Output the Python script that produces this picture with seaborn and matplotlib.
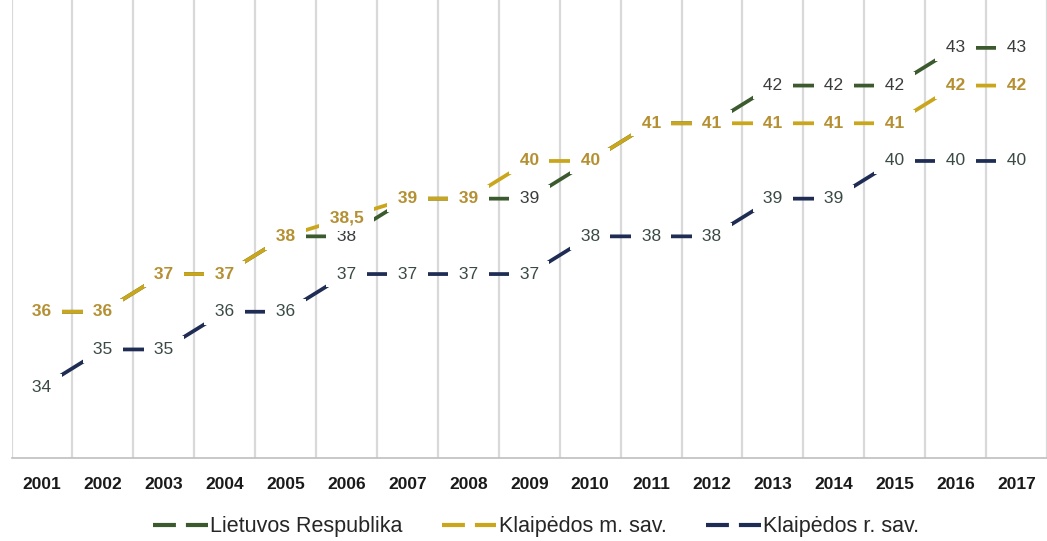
import matplotlib
matplotlib.use("Agg")
import matplotlib.pyplot as plt
import seaborn as sns
import pandas as pd
import numpy as np
from matplotlib.lines import Line2D

years = [str(y) for y in range(2001, 2018)]
lietuvos = [36, 36, 37, 37, 38, 38, 39, 39, 39, 40, 41, 41, 42, 42, 42, 43, 43]
klaipedos_m = [36, 36, 37, 37, 38, 38.5, 39, 39, 40, 40, 41, 41, 41, 41, 41, 42, 42]
klaipedos_r = [34, 35, 35, 36, 36, 37, 37, 37, 37, 38, 38, 38, 39, 39, 40, 40, 40]
series_names = ["Lietuvos Respublika", "Klaipėdos m. sav.", "Klaipėdos r. sav."]
line_colors = ["#3b5a2e", "#c9a61c", "#1f2d55"]
label_colors = ["#3a3d3b", "#b59033", "#3a4a45"]

sns.set_theme(style="white")
plt.rcParams["font.family"] = ["Liberation Sans", "DejaVu Sans"]

df = pd.DataFrame({
    "year": years * 3,
    "x": list(range(len(years))) * 3,
    "value": lietuvos + klaipedos_m + klaipedos_r,
    "series": [series_names[0]] * 17 + [series_names[1]] * 17 + [series_names[2]] * 17,
})

fig = plt.figure(figsize=(10.47, 5.41), dpi=100)
ax = fig.add_axes([0.011, 0.1534, 0.989, 0.8466])

# vertical gridlines at category boundaries
for b in np.arange(-0.5, len(years) + 0.5, 1.0):
    ax.axvline(b, color="#d9d9d9", lw=1.6, zorder=0)

sns.lineplot(data=df, x="x", y="value", hue="series", palette=dict(zip(series_names, line_colors)),
             hue_order=series_names, ax=ax, lw=2.7, legend=False, zorder=2)

order = [0, 2, 1]  # gold labels drawn on top
data = [lietuvos, klaipedos_m, klaipedos_r]
for k in order:
    vals = data[k]
    for i, v in enumerate(vals):
        txt = " " + ("%g" % v).replace(".", ",") + " "
        ax.text(i, v, txt, ha="center", va="center", fontsize=12.5,
                fontweight="bold" if k == 1 else "medium",
                color=label_colors[k], zorder=5 + (1 if k == 1 else 0),
                bbox=dict(boxstyle="square,pad=0.33", fc="white", ec="none"))

ax.set_xlim(-0.5, len(years) - 0.5)
ax.set_ylim(32.12, 44.27)
ax.set_xticks(range(len(years)))
ax.set_xticklabels(years, fontsize=12.5, fontweight="bold", color="#1a1a1a")
ax.set_yticks([])
ax.tick_params(axis="x", length=0, pad=14)
for s in ["top", "right", "left"]:
    ax.spines[s].set_visible(False)
ax.spines["bottom"].set_color("#bfbfbf")
ax.spines["bottom"].set_linewidth(1.2)
ax.set_xlabel("")
ax.set_ylabel("")

handles = [Line2D([0], [0], color=c, lw=3, dashes=(5.5, 2.4)) for c in line_colors]
fig.legend(handles, series_names, loc="center", bbox_to_anchor=(0.512, 0.026), ncol=3,
           frameon=False, fontsize=15.5, handlelength=2.55, handletextpad=0.12, columnspacing=1.8)

fig.savefig("out.png", dpi=100)
